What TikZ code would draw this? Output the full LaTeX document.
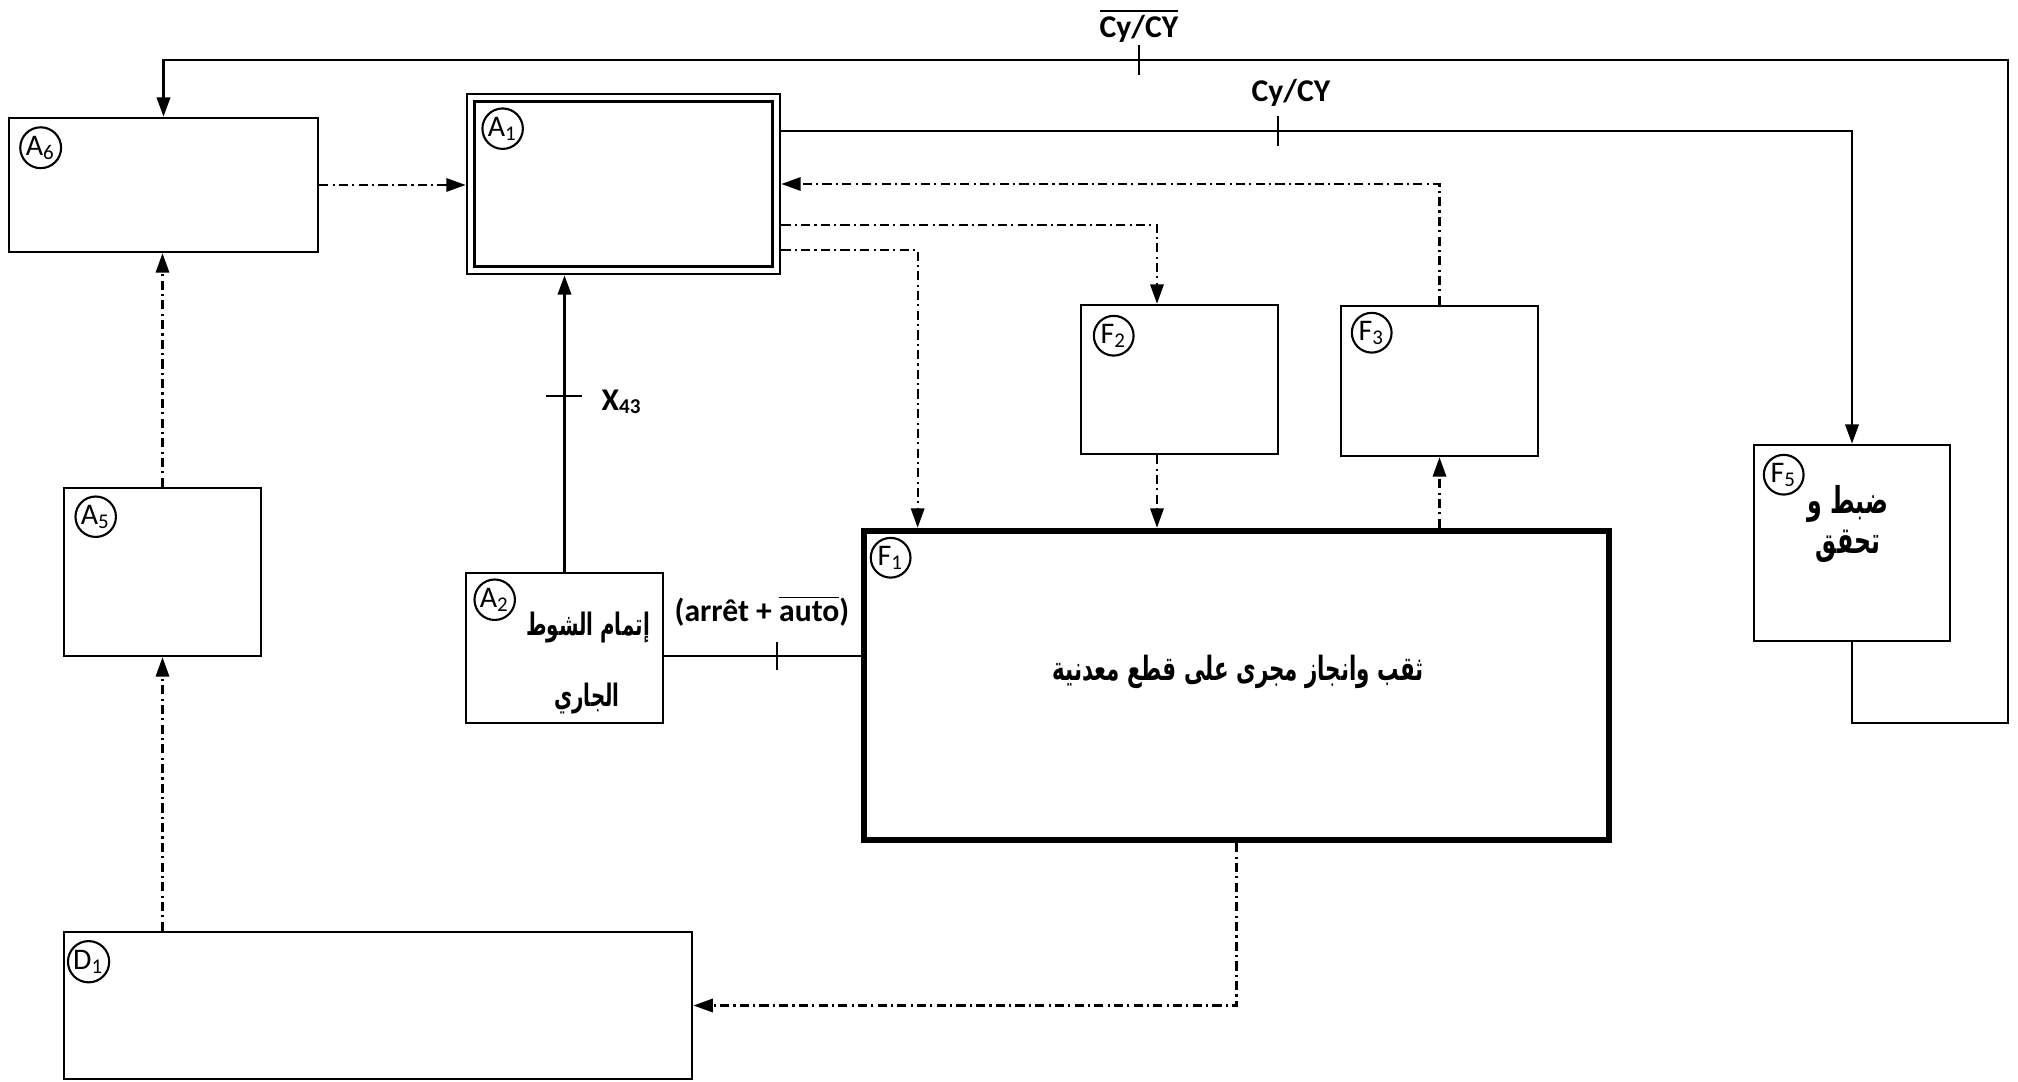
\documentclass[tikz,border=0pt]{standalone}
\usepackage{amsmath}
\usepackage{fontspec}
\setmainfont{Carlito}
\newfontfamily\arabicfont[Script=Arabic, FakeStretch=0.64]{DejaVu Sans}
\TeXXeTstate=1
\usetikzlibrary{arrows.meta}

\begin{document}
\begin{tikzpicture}[x=0.01cm, y=-0.01cm, >={Triangle[length=5.5pt,width=3.8pt]},
    box/.style={draw, line width=0.7pt, inner sep=0pt},
    tag/.style={draw, circle, line width=0.6pt, inner sep=0.3pt, minimum size=11.3pt,
      font=\fontsize{8.5}{8.5}\selectfont},
    sig/.style={line width=0.75pt},
    ctl/.style={line width=0.6pt, dash pattern=on 2.6pt off 1.2pt on 0.6pt off 1.2pt},
    lbl/.style={font=\bfseries\fontsize{9}{10}\selectfont},
    ar/.style={font=\arabicfont\bfseries\fontsize{9.5}{11}\selectfont, align=center}]
  \useasboundingbox (0,0) rectangle (2018,1082);
  \node[box, minimum width=3.09cm, minimum height=1.34cm] (A6) at (163.5,185) {};
  \node[box, double, double distance=1.4pt, outer sep=1.5pt,
    minimum width=3.05cm, minimum height=1.72cm] (A1) at (623.5,184) {};
  \node[box, minimum width=1.97cm, minimum height=1.68cm] (A5) at (162.5,572) {};
  \node[box, minimum width=1.97cm, minimum height=1.50cm] (A2) at (564.5,648) {};
  \node[box, line width=1.8pt, minimum width=7.45cm, minimum height=3.09cm] (F1) at (1236.5,685.5) {};
  \node[box, minimum width=1.97cm, minimum height=1.49cm] (F2) at (1179.5,379.5) {};
  \node[box, minimum width=1.97cm, minimum height=1.50cm] (F3) at (1439.5,381) {};
  \node[box, minimum width=1.96cm, minimum height=1.96cm] (F5) at (1852,543) {};
  \node[box, minimum width=6.28cm, minimum height=1.47cm] (D1) at (378,1005.5) {};

  \node[tag] at ([shift={(33,31)}]A6.north west) {A\textsubscript{6}};
  \node[tag] at ([shift={(37,36)}]A1.north west) {A\textsubscript{1}};
  \node[tag] at ([shift={(33,30)}]A5.north west) {A\textsubscript{5}};
  \node[tag] at ([shift={(30,28)}]A2.north west) {A\textsubscript{2}};
  \node[tag] at ([shift={(30,30)}]F1.north west) {F\textsubscript{1}};
  \node[tag] at ([shift={(34,32)}]F2.north west) {F\textsubscript{2}};
  \node[tag] at ([shift={(32,28)}]F3.north west) {F\textsubscript{3}};
  \node[tag] at ([shift={(31,31)}]F5.north west) {F\textsubscript{5}};
  \node[tag] at ([shift={(26,31)}]D1.north west) {D\textsubscript{1}};

  \node[ar, font=\arabicfont\bfseries\fontsize{8.8}{11}\selectfont] (A2top) at (588,628) {\beginR إتمام الشوط\endR};
  \node[ar, font=\arabicfont\bfseries\fontsize{8.8}{11}\selectfont] (A2bot) at (587,699) {\beginR الجاري\endR};
  \node[ar] (F1txt) at (1238,672) {\beginR ثقب وانجاز مجرى على قطع معدنية\endR};
  \node[ar, font=\arabicfont\bfseries\fontsize{10.5}{11.5}\selectfont] (F5txt) at (1848,524) {\beginR ضبط و\endR\\\beginR تحقق\endR};

  \coordinate (loopR) at (2008,723); \coordinate (loopT) at (2008,60);
  \coordinate (tk1) at (1139,60); \coordinate (tk2) at (1278,131);
  \coordinate (tk3) at (564,396); \coordinate (tk4) at (777,656);

  \draw[sig,->] (F5.south) |- (loopR) -- (loopT) -| (A6.north);
  \draw[sig] (tk1) ++(0,-15) -- ++(0,30);
  \node[lbl] (cybar) at (1139,26) {$\overline{\text{Cy/CY}}$};
  \draw[sig,->] ([yshift=0.53cm]A1.east) -| (F5.north);
  \draw[sig] (tk2) ++(0,-15) -- ++(0,30);
  \node[lbl] (cy) at (1291,93) {Cy/CY};
  \draw[sig,->] (A2.north) -- (A2.north |- A1.south);
  \draw[sig] (tk3) ++(-18,0) -- ++(36,0);
  \node[lbl] (x43) at (622,402) {X\textsubscript{43}};
  \draw[sig] ([yshift=-0.08cm]A2.east) -- ([yshift=-0.08cm]A2.east -| F1.west);
  \draw[sig] (tk4) ++(0,-14) -- ++(0,28);
  \node[lbl] (stop) at (762,611) {(arrêt + $\overline{\text{auto}}$)};

  \draw[ctl,->] (A6.east) -- (A6.east -| A1.west);
  \draw[ctl,->] (F3.north) |- (A1.east);
  \draw[ctl,->] ([yshift=-0.41cm]A1.east) -| ([xshift=-0.225cm]F2.north);
  \draw[ctl,->] ([yshift=-0.66cm]A1.east) -| ([xshift=0.57cm]F1.north west);
  \draw[ctl,->] ([xshift=-0.225cm]F2.south) -- ([xshift=-0.225cm]F2.south |- F1.north);
  \draw[ctl,->] (F3.south |- F1.north) -- (F3.south);
  \draw[ctl,->] (F1.south) |- (D1.east);
  \draw[ctl,->] (A5.south |- D1.north) -- (A5.south);
  \draw[ctl,->] (A5.north) -- (A5.north |- A6.south);
\end{tikzpicture}
\end{document}
